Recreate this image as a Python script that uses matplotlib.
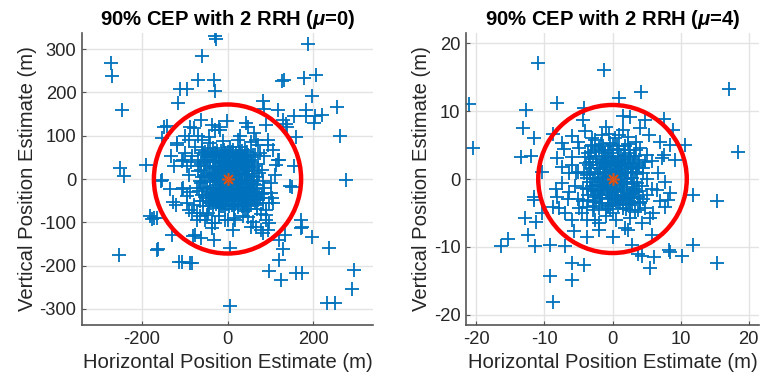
import matplotlib
matplotlib.use("Agg")
import matplotlib.pyplot as plt
from matplotlib.patches import Circle

plt.rcParams['font.family'] = ['Liberation Sans', 'DejaVu Sans']
plt.rcParams['mathtext.fontset'] = 'custom'
plt.rcParams['mathtext.it'] = 'Liberation Sans:italic:bold'
plt.rcParams['axes.unicode_minus'] = False

titles = ["90% CEP with 2 RRH ($\\mu$=0)", "90% CEP with 2 RRH ($\\mu$=4)"]
xlabel = "Horizontal Position Estimate (m)"
ylabel = "Vertical Position Estimate (m)"

cep_left = 172
cep_right = 10.9

left_ticks = [-300, -200, -100, 0, 100, 200, 300]
left_xticks = [-200, 0, 200]
right_ticks = [-20, -10, 0, 10, 20]

left_outer = [(-29,330),(-27,323),(187,311),(-272,268),(-270,237),(-60,283),(-69,228),(-32,229),(-30,204),
 (-110,208),(-95,208),(-115,175),(133,229),(128,227),(179,233),(206,241),(197,191),(-247,159),(83,179),
 (86,162),(117,160),(130,137),(256,166),(183,160),(183,145),(204,146),(220,148),(202,129),(156,145),
 (160,98),(137,128),(140,120),(264,100),(90,125),(-148,120),(-154,95),(-88,120),(-79,118),(-62,137),
 (-2,133),(-117,79),(-90,91),(-191,32),(-251,25),(-243,7),(276,-2),(-156,-5),(-134,-22),(-106,-22),
 (-127,-54),(-121,-60),(145,-17),(151,-18),(-176,-92),(-165,-90),(171,-94),(171,-114),(175,-110),
 (-129,-129),(-80,-132),(-75,-129),(-63,-137),(-32,-141),(-36,-114),(135,-129),(121,-141),(129,-162),
 (121,-187),(198,-135),(237,-159),(-162,-161),(-253,-175),(-114,-191),(-106,-191),(-87,-193),(-83,-195),
 (98,-212),(125,-232),(160,-216),(175,-217),(295,-210),(291,-255),(233,-287),(252,-286),(5,-293),
 (5,-160),(48,121),(63,106),(67,91),(94,79),(121,45),(114,33),(86,52),(106,68),(117,45),(156,31),
 (102,-10),(83,-5),(-133,52),(-125,29),(-107,41),(-94,29),(-83,52),(-60,68),(-44,98),(-29,114),
 (-21,121),(-37,125),(-18,114),(44,129),(-141,122),(-103,45),(-118,83),(-90,-72),(-71,-79),(-71,-95),
 (-52,-95),(-29,-102),(-6,-95),(1,-95),(17,-95),(13,-118),(79,-118),(82,-125),(94,-118),(90,-95),
 (98,-102),(56,-110),(67,-110),(48,-87),(98,-56),(83,-56),(90,-72),(86,-33),(102,-33),(106,-55),
 (90,-82),(36,-86),(-49,-82),(-37,-101),(-83,-78),(-103,-21),(-95,-55),(-153,-2),(-180,-86),
 (-172,-90),(-164,-163)]

left_ring = [(-75,75),(-85,40),(-90,10),(-88,-30),(-78,-60),(-65,-85),(-45,-78),(-20,-85),(15,-90),
 (40,-75),(70,-60),(78,-80),(85,-20),(80,20),(75,60),(55,85),(25,90),(-10,88),(-40,82),(-60,90),
 (-100,60),(-95,-40),(110,10),(105,-45),(60,-100),(-100,100),(-70,100),(30,100),(72,78),(95,90),
 (75,-45),(68,-70),(80,-35)]

left_core = [(-62,35),(-55,10),(-58,-20),(-50,-45),(-48,50),(-40,25),(-42,-5),(-38,-35),(-35,-60),
 (-30,60),(-28,40),(-25,15),(-27,-15),(-22,-40),(-20,-55),(-15,65),(-12,45),(-10,25),(-14,5),(-8,-10),
 (-12,-28),(-5,-48),(-3,55),(2,35),(0,18),(4,-4),(-2,-22),(6,-38),(3,-62),(10,62),(12,42),(15,22),
 (10,8),(14,-12),(18,-30),(12,-50),(22,52),(26,30),(24,12),(28,-6),(22,-20),(30,-42),(25,-58),(35,65),
 (38,40),(34,20),(40,2),(36,-18),(42,-35),(38,-55),(48,55),(50,28),(46,10),(52,-12),(48,-28),(55,-48),
 (58,40),(62,18),(60,-2),(64,-22),(58,-38),(-65,-5),(-68,18),(-60,-38),(-45,65),(68,5),(70,-30),
 (-20,-68),(15,-70),(45,-70),(30,75),(-35,72),(5,75),(-5,-70),(50,-62),(72,35),(-70,45),(65,55),
 (-18,-2),(-6,8),(8,-20),(20,0),(-30,0),(0,-35),(0,40),(32,-25),(-32,30),(-24,-25),(18,38),(-10,-40),
 (28,48),(-44,-55),(44,45),(6,2),(-3,-5),(2,8),
 (-55,55),(-50,30),(-52,-8),(-46,-30),(-44,-62),(-40,45),(-36,8),(-33,-22),(-30,-48),(-26,52),
 (-22,28),(-20,-8),(-18,-30),(-16,-62),(-12,58),(-8,38),(-6,15),(-4,-18),(-2,-40),(-1,-58),(2,62),
 (4,48),(6,25),(8,-8),(9,-30),(11,-60),(14,55),(16,30),(18,12),(20,-14),(21,-40),(24,-65),(26,62),
 (28,20),(30,-2),(32,-32),(33,-50),(36,50),(38,28),(40,-10),(42,-26),(44,-45),(46,62),(48,18),(50,-4),
 (52,-36),(54,-56),(56,50),(58,8),(60,-28),(62,-48),(-64,-50),(-62,20),(-58,-62),(-56,45),(-66,-28),
 (-60,5),(-52,62),(-48,-40),(-43,15),(-37,-45),(-34,40),(-28,-5),(-24,-52),(-20,48),(-17,20),
 (-14,-45),(-9,-25),(-7,60),(-4,30),(0,-8),(3,-28),(5,55),(7,12),(12,-4),(16,-48),(19,45),(23,-30),
 (27,8),(31,35),(34,-12),(37,-62),(41,20),(45,-20),(49,40),(53,-20),(57,25),(61,-12),(-26,-32),
 (-10,-55),(20,60),(10,-40),(-35,55),(44,-58),(66,-40),(-66,30),
 (-45,40),(-41,-18),(-38,55),(-33,12),(-31,-38),(-29,25),(-26,-58),(-23,5),(-21,38),(-19,-20),
 (-16,42),(-15,-10),(-13,18),(-11,-62),(-9,50),(-7,-32),(-5,3),(-3,22),(-1,-25),(1,52),(3,-12),
 (5,-50),(7,40),(9,18),(11,-25),(13,-38),(15,8),(17,-58),(19,25),(21,-5),(23,40),(25,-45),(27,-20),
 (29,58),(31,14),(33,-62),(35,-8),(37,35),(39,-40),(41,52),(43,-2),(45,28),(47,-52),(51,12),(53,45),
 (55,-30),(57,-8),(59,55),(-47,5),(-49,-22),(-53,40),(-57,-50),(-61,-10),(-39,-55),(-25,65),(-8,68),
 (12,68),(40,68),(-58,60),(63,30),(65,-55),(69,-15),(72,-48),(74,15),(-71,-20)]

right_outer = [(-10.9,17.1),(-1.3,16.0),(17.1,13.2),(-21.1,11.1),(-20.5,4.6),(18.4,4.0),(4.2,12.8),
 (0.9,12.0),(-8.1,11.2),(-12.7,10.1),(-13.2,7.5),(-11.5,6.1),(-13.5,3.3),(-11.9,3.4),(-4.2,10.5),
 (-4.3,8.7),(-1.0,7.7),(-5.9,6.3),(-7.4,5.3),(-7.1,4.4),(-8.8,6.7),(-4.9,4.5),(-3.0,6.0),(-2.5,5.8),
 (-0.5,6.7),(-3.2,4.8),(-8.1,3.1),(-7.4,1.8),(-5.9,3.3),(-10.3,1.0),(-6.4,0.9),(-5.4,0.9),(1.6,9.3),
 (2.5,9.2),(4.8,8.7),(7.6,8.9),(8.9,7.2),(4.0,7.5),(5.4,6.5),(1.6,7.2),(0.4,6.0),(2.3,6.2),(7.0,5.5),
 (8.4,5.0),(10.6,5.0),(7.5,3.6),(7.2,3.1),(9.2,2.8),(5.0,3.6),(5.8,2.6),(6.7,0.9),(4.5,1.6),
 (-11.5,-2.6),(-11.5,-3.1),(-12.8,-5.7),(-11.3,-6.4),(-15.3,-8.8),(-16.3,-9.9),(-12.4,-8.2),
 (-11.4,-9.9),(-9.1,-9.7),(-6.9,-9.9),(-5.9,-12.4),(-4.2,-12.7),(-9.2,-14.3),(-5.9,-14.8),
 (-8.8,-18.1),(-8.3,-1.4),(-8.1,-2.6),(-8.8,-4.1),(-7.8,-4.3),(-6.9,-5.0),(-5.9,-6.0),(-5.6,-7.7),
 (-3.7,-8.5),(-7.4,-0.6),(-6.4,-1.9),(-10.3,-5.0),(-4.9,-4.3),(-3.7,-4.1),(-2.5,-6.0),(-1.0,-5.5),
 (-3.7,-6.0),(0.1,-8.5),(11.8,-2.3),(15.4,-3.2),(11.8,-9.7),(8.3,-10.5),(8.5,-10.8),(10.2,-11.3),
 (15.3,-12.3),(6.1,-11.5),(5.5,-13.1),(3.8,-11.1),(4.3,-11.3),(2.8,-9.7),(5.8,-8.2),(1.9,-7.2),
 (2.3,-7.5),(4.3,-6.5),(5.5,-5.8),(3.8,-4.5),(4.8,-4.3),(7.0,-3.3),(8.2,-3.1),(7.7,-4.1),(6.5,-1.6),
 (8.4,-2.1),(7.7,-0.5),(2.6,-3.8),(3.3,-4.8),(5.8,-1.4),(5.0,-2.3)]

right_ring = [(-5.0,5.5),(-6.0,2.0),(-5.5,-1.0),(-5.0,-3.0),(-4.5,-5.0),(-2.0,-6.5),(0.5,-6.0),
 (2.5,-5.8),(4.5,-3.0),(5.0,0.0),(4.7,2.5),(3.5,5.5),(1.0,6.5),(-1.5,6.5),(-4.0,7.0),(-6.5,-3.0),
 (6.0,-5.0),(-2.0,-7.5),(4.0,4.5),(-5.0,1.0)]

right_core = [(-3.4,2.0),(-3.0,-1.0),(-3.2,4.0),(-2.8,-3.2),(-2.6,0.8),(-2.4,3.0),(-2.2,-2.0),(-2.0,4.6),
 (-1.8,1.6),(-1.6,-0.4),(-1.5,-3.6),(-1.2,2.8),(-1.0,0.2),(-0.8,-1.8),(-0.6,4.2),(-0.5,-3.0),(-0.3,1.2),
 (0.0,3.4),(0.2,-0.8),(0.4,-2.4),(0.5,2.2),(0.8,-3.8),(1.0,4.4),(1.2,0.6),(1.4,-1.4),(1.6,2.8),
 (1.8,-3.0),(2.0,1.4),(2.2,-0.6),(2.4,3.8),(2.6,-2.2),(2.8,0.2),(3.0,2.4),(3.2,-1.4),(3.4,4.2),
 (-3.6,-2.4),(-3.8,0.2),(-2.0,-4.2),(2.9,-3.6),(0.6,0.0),(-0.9,-0.2),(0.3,0.7),(-0.2,-1.0),(1.1,-0.4),
 (-1.3,0.9),(0.1,5.0),(-1.7,5.2),(1.9,4.9),(3.6,0.8),(-4.0,3.2),(-0.4,-4.4),(1.5,-4.2),(2.5,-4.6),
 (-2.9,-4.6),(3.8,-2.6),(-3.3,1.0),(0.9,1.9),(-0.7,2.6),(-2.3,-0.9),(2.3,0.9),(1.3,3.2),(-1.1,3.8),
 (0.7,-1.9),(-1.9,-2.8),(2.7,1.7),(-0.1,-2.6),(0.0,0.0),(0.4,-0.3),(-0.5,0.4),(2.8,1.4),
 (-3.5,3.2),(-3.1,1.6),(-3.3,-0.4),(-2.9,-1.8),(-2.7,-4.0),(-2.5,4.3),(-2.3,2.1),(-2.1,0.1),
 (-1.9,-1.1),(-1.7,-2.4),(-1.4,4.8),(-1.3,3.2),(-1.1,1.7),(-0.9,-0.8),(-0.7,-2.8),(-0.6,-4.0),
 (-0.4,5.3),(-0.2,3.8),(0.0,2.0),(0.2,0.4),(0.3,-1.4),(0.5,-3.2),(0.7,4.8),(0.8,3.0),(1.0,1.2),
 (1.1,-0.9),(1.3,-2.6),(1.5,-3.9),(1.7,4.2),(1.9,2.2),(2.1,0.0),(2.2,-1.8),(2.4,-3.3),(2.6,3.0),
 (2.7,1.0),(2.9,-0.8),(3.1,-2.8),(3.3,3.4),(3.5,1.6),(3.6,-0.6),(-3.8,-1.4),(-3.9,2.4),(-2.6,-2.7),
 (-1.6,2.4),(-0.1,-3.6),(1.6,0.0),(2.0,-4.4),(-1.0,-4.6),(3.9,-1.7),(-4.2,0.9),(0.6,1.4),(-0.6,-1.3),
 (1.4,2.0),(-1.5,-1.6),(-3.0,5.0),(2.3,5.2),(3.9,2.8),(-4.4,-3.2),(4.0,-3.6),(0.0,-5.0),
 (-2.8,2.5),(-2.6,-1.1),(-2.4,3.4),(-2.1,0.8),(-1.9,-2.4),(-1.8,1.5),(-1.6,-3.6),(-1.4,0.3),
 (-1.3,2.4),(-1.2,-1.2),(-1.0,2.6),(-0.9,-0.6),(-0.8,1.1),(-0.7,-3.9),(-0.6,3.1),(-0.4,-2.0),
 (-0.3,0.2),(-0.2,1.4),(-0.1,-1.6),(0.1,3.2),(0.2,-0.8),(0.3,-3.1),(0.4,2.5),(0.6,1.1),(0.7,-1.6),
 (0.8,-2.4),(0.9,0.5),(1.1,-3.6),(1.2,1.6),(1.3,-0.3),(1.4,2.5),(1.6,-2.8),(1.7,-1.2),(1.8,3.6),
 (1.9,0.9),(2.1,-3.9),(2.2,-0.5),(2.3,2.2),(2.4,-2.5),(2.6,3.2),(2.7,0.1),(2.9,-2.0),(3.0,1.8),
 (3.1,-0.5),(3.2,3.4),(3.4,1.0),(3.5,-1.9),(3.7,2.2),(-2.9,0.0),(-3.1,-1.4),(-3.3,2.5),(-3.6,-3.1),
 (-3.8,0.6),(-2.4,-3.4),(-1.6,4.1),(-0.5,4.3),(0.8,4.3),(2.5,4.3),(-3.6,3.8),(3.9,1.9),(4.1,-3.4),
 (4.3,-1.0),(4.5,0.9),(-4.4,-1.3)]

true_pos = (0, 0)

W, H = 761, 389
fig = plt.figure(figsize=(W/100, H/100), dpi=100)
axL = fig.add_axes([82/W, (H-325)/H, 291/W, 292/H])
axR = fig.add_axes([466/W, (H-325)/H, 293/W, 292/H])

blue = '#0072BD'
orange = '#D95319'
axc = '#262626'

panels = [
    (axL, left_outer + left_ring + left_core, cep_left, 340, 337, left_xticks, left_ticks, titles[0]),
    (axR, right_outer + right_ring + right_core, cep_right, 21.5, 21.5, right_ticks, right_ticks, titles[1]),
]
for ax, pts, r, xl, yl, xt, yt, title in panels:
    xs = [p[0] for p in pts]
    ys = [p[1] for p in pts]
    ax.plot(xs, ys, linestyle='none', marker='+', ms=9.5, mew=1.3, color=blue, zorder=2)
    ax.add_patch(Circle(true_pos, r, fill=False, ec='#FF0000', lw=3.2, zorder=3))
    ax.plot([true_pos[0]], [true_pos[1]], linestyle='none', marker=(8, 2, 0), ms=9,
            mew=1.1, color=orange, zorder=4)
    ax.set_xlim(-xl, xl)
    ax.set_ylim(-yl, yl)
    ax.set_xticks(xt)
    ax.set_yticks(yt)
    ax.grid(True, color='#E3E3E3', lw=1.0, zorder=0)
    ax.set_axisbelow(True)
    for s in ['top', 'right']:
        ax.spines[s].set_visible(False)
    for s in ['left', 'bottom']:
        ax.spines[s].set_color('#555555')
        ax.spines[s].set_linewidth(1.2)
    ax.tick_params(direction='in', length=3, width=0.8, colors='#555555',
                   labelcolor=axc, labelsize=13.2, pad=4)
    ax.set_xlabel(xlabel, fontsize=14.6, color=axc, labelpad=4)
    ax.set_ylabel(ylabel, fontsize=14.6, color=axc, labelpad=2)
    ax.set_title(title, fontsize=14.6, fontweight='bold', color='black', pad=6)

fig.savefig('out.png', dpi=100)
